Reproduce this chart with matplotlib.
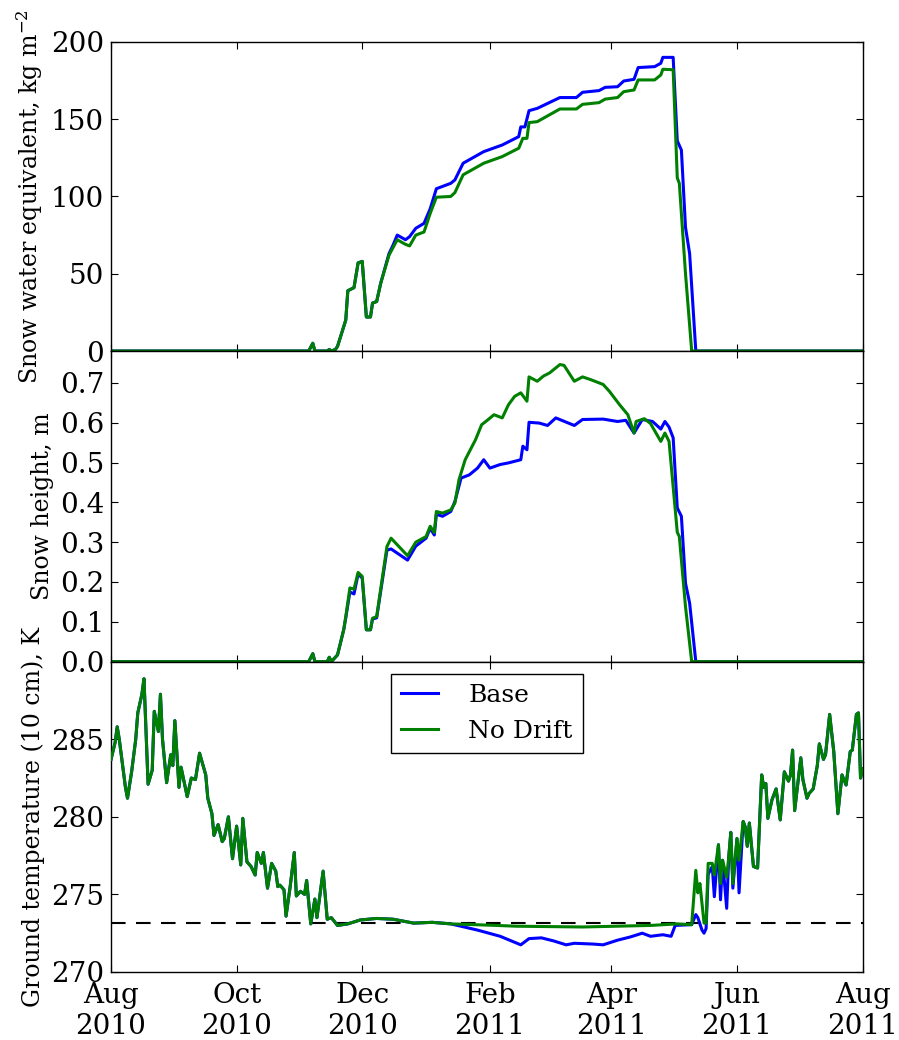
import matplotlib
matplotlib.use("Agg")
import numpy as np
import matplotlib.pyplot as plt
import matplotlib.dates as mdates
from matplotlib.ticker import FormatStrFormatter

# ---------------- data (days since 2010-08-01) ----------------
start_date = "2010-08-01"
end_date = "2011-08-01"
series_names = ["Base", "No Drift"]

# Snow water equivalent, kg m-2
swe_base_days = [0, 96, 98, 99, 105, 106, 107, 109, 110, 114, 115, 118, 120, 122, 124, 126, 127, 129, 131, 135,
                 137, 139, 143, 145, 148, 152, 155, 158, 165, 167, 171, 181, 190, 198, 199, 201, 203, 207, 218, 226,
                 229, 237, 240, 246, 249, 254, 256, 264, 267, 268, 273, 275, 277, 279, 281, 284, 365]
swe_base = [0, 0, 5, 0, 0, 1, 0, 1, 3, 20, 39, 41, 57, 58, 22, 22, 31, 32, 44, 63,
            68.6, 75, 72, 74, 79.4, 82.6, 92, 105, 108.5, 110.7, 121.5, 129, 133.3, 138.7, 145, 145, 155.5, 157, 164, 164,
            167.4, 168.5, 170.6, 171, 174.7, 175.8, 183.4, 184, 186.2, 190, 190, 136, 130, 80, 63, 0, 0]
swe_nd_days = [0, 96, 98, 99, 105, 106, 107, 109, 110, 114, 115, 118, 120, 122, 124, 126, 127, 129, 131, 135,
               137, 139, 143, 145, 148, 152, 155, 158, 165, 167, 171, 181, 190, 198, 200, 202, 203, 207, 218, 226,
               229, 237, 240, 246, 249, 254, 256, 264, 267, 268, 273, 275, 276, 279, 282, 365]
swe_nd = [0, 0, 5, 0, 0, 1, 0, 1, 3, 20, 39, 41, 57, 58, 22, 22, 31, 32, 44, 62,
          67, 72, 69, 68, 75, 77, 89, 99.5, 100, 102.5, 114, 121.5, 125.8, 131.2, 137.6, 137.6, 147.8, 148.4, 156.6, 156.6,
          159.6, 160.7, 163, 164, 167.8, 168.9, 175.4, 175.4, 178.6, 182.3, 182, 112, 108.5, 50, 0, 0]

# Snow height, m
h_base_days = [0, 96, 98, 99, 105, 106, 107, 110, 113, 114, 116, 118, 120, 122, 124, 126, 127, 129, 134, 136,
               144, 148, 153, 155, 157, 158, 161, 165, 167, 170, 174, 178, 181, 184, 189, 193, 199, 200, 202, 203,
               208, 212, 216, 225, 229, 239, 246, 250, 254, 258, 263, 267, 269, 271, 273, 275, 277, 279, 281, 284, 365]
h_base = [0, 0, 0.02, 0, 0, 0.011, 0, 0.017, 0.08, 0.11, 0.175, 0.17, 0.22, 0.21, 0.08, 0.08, 0.107, 0.11, 0.28, 0.283,
          0.255, 0.29, 0.31, 0.335, 0.318, 0.37, 0.365, 0.377, 0.402, 0.461, 0.469, 0.486, 0.507, 0.486, 0.495, 0.499,
          0.507, 0.541, 0.532, 0.601, 0.599, 0.593, 0.612, 0.593, 0.608, 0.609, 0.603, 0.606, 0.574, 0.608,
          0.603, 0.584, 0.603, 0.589, 0.562, 0.386, 0.365, 0.197, 0.147, 0, 0]
h_nd_days = [0, 96, 98, 99, 105, 106, 107, 110, 113, 114, 116, 118, 120, 122, 124, 126, 127, 129, 134, 136,
             144, 148, 153, 155, 157, 158, 161, 165, 167, 169, 172, 177, 180, 182, 186, 190, 193, 196, 199, 202,
             203, 207, 210, 213, 218, 220, 225, 229, 233, 239, 242, 247, 251, 254, 255, 259, 262, 267, 269, 271,
             275, 276, 279, 282, 365]
h_nd = [0, 0, 0.02, 0, 0, 0.011, 0, 0.017, 0.08, 0.113, 0.185, 0.182, 0.224, 0.214, 0.08, 0.08, 0.109, 0.113, 0.289, 0.31,
        0.266, 0.30, 0.314, 0.34, 0.324, 0.377, 0.373, 0.381, 0.398, 0.457, 0.507, 0.557, 0.595, 0.603, 0.62, 0.612,
        0.645, 0.666, 0.675, 0.654, 0.715, 0.704, 0.717, 0.725, 0.746, 0.744, 0.704, 0.715, 0.708, 0.696,
        0.679, 0.645, 0.62, 0.574, 0.603, 0.61, 0.598, 0.553, 0.574, 0.553, 0.325, 0.314, 0.138, 0, 0]

# Ground temperature (10 cm), K
t_early_days = [0, 2, 3, 4, 7, 8, 10, 12, 13, 15, 16, 18, 20, 21, 23, 24, 25, 27, 29, 30,
                31, 33, 34, 37, 39, 41, 43, 46, 47, 49, 50, 52, 54, 55, 57, 59, 61, 63, 64, 66,
                68, 70, 71, 73, 74, 76, 78, 80, 81, 82, 84, 85, 87, 89, 90, 92, 94, 95, 97, 99,
                100, 103, 105, 107, 110, 115, 121, 129, 137, 147, 156, 165]
t_early = [283.7, 284.8, 285.8, 285.0, 281.9, 281.2, 282.9, 285.0, 286.7, 287.9, 288.9, 282.1, 283.0, 286.8, 285.5,
           287.9, 285.0, 282.2, 284.0, 283.3, 286.2, 281.9, 283.2, 281.3, 282.5, 282.4, 284.1, 282.7, 281.2, 280.2,
           278.8, 279.5, 278.4, 278.6, 280.0, 277.3, 279.4, 276.9, 279.9, 277.1, 276.8, 276.25, 277.7, 277.0, 277.7,
           275.4, 277.0, 276.5, 275.5, 275.6, 275.3, 273.6, 275.5, 277.7, 274.9, 275.2, 275.0, 275.9, 273.1, 274.7,
           273.5, 276.5, 273.4, 273.5, 273.0, 273.1, 273.35, 273.45, 273.4, 273.15, 273.2, 273.1]
t_base_mid_days = [178, 189, 199, 203, 209, 215, 221, 225, 234, 239, 246, 252, 258, 262, 268, 272, 274, 281, 282, 284,
                   285, 287, 288, 289, 290, 292, 293, 295, 296, 297, 299, 300, 301, 302, 304, 305]
t_base_mid = [272.7, 272.3, 271.75, 272.15, 272.2, 272.0, 271.75, 271.85, 271.8, 271.75, 272.05, 272.25, 272.5,
              272.3, 272.4, 272.3, 273.0, 273.05, 273.05, 273.7, 273.5, 272.7, 272.5, 272.8, 276.3, 276.8, 274.85,
              278.2, 274.65, 277.2, 274.1, 277.4, 279.0, 275.4, 278.6, 275.1]
t_nd_mid_days = [181, 197, 229, 262, 275, 282, 284, 285, 286, 288, 289, 290, 292, 293, 295, 296, 297, 299, 300, 301,
                 302, 304, 305]
t_nd_mid = [273.03, 272.95, 272.9, 273.0, 273.1, 273.05, 276.55, 275.1, 275.7, 273.15, 273.15, 277.0, 277.0, 276.25,
            278.2, 275.7, 277.2, 276.1, 277.4, 279.0, 275.7, 278.6, 277.2]
t_late_days = [307, 308, 309, 310, 312, 314, 316, 317, 318, 319, 321, 323, 325, 327, 329, 330, 331, 332, 335, 336,
               338, 339, 341, 343, 344, 346, 347, 349, 351, 353, 355, 357, 359, 360, 362, 363, 364, 365]
t_late = [279.7, 279.35, 278.1, 279.6, 276.8, 276.7, 282.7, 281.9, 282.15, 279.9, 281.1, 281.8, 279.8, 282.9, 282.3,
          282.7, 284.3, 280.4, 283.8, 282.4, 281.2, 281.5, 281.8, 283.3, 284.7, 283.7, 284.0, 286.6, 284.2, 280.2,
          282.7, 282.05, 284.2, 284.3, 286.6, 286.7, 282.5, 283.1]
freezing_point = 273.15

# ---------------- helpers ----------------
t0 = np.datetime64(start_date)


def to_dates(days):
    return t0 + np.asarray(days).astype("timedelta64[D]")


t_base_days = t_early_days + t_base_mid_days + t_late_days
t_base = t_early + t_base_mid + t_late
t_nd_days = t_early_days + t_nd_mid_days + t_late_days
t_nd = t_early + t_nd_mid + t_late

# ---------------- style ----------------
plt.rcParams.update({
    "font.family": ["DejaVu Serif"],
    "mathtext.fontset": "dejavuserif",
    "xtick.direction": "in", "ytick.direction": "in",
    "xtick.top": True, "ytick.right": True,
    "xtick.major.size": 5, "ytick.major.size": 5,
    "xtick.major.width": 0.8, "ytick.major.width": 0.8,
    "xtick.major.pad": 7, "ytick.major.pad": 5,
    "xtick.labelsize": 20, "ytick.labelsize": 20,
    "axes.linewidth": 1.0,
})

BLUE = "#0000ff"
GREEN = "#008000"
LW = 2.2

fig = plt.figure(figsize=(8.99, 10.40), dpi=100)
left, width, h = 0.1235, 0.836, 0.2980
ax1 = fig.add_axes([left, 0.6625, width, 0.2972])
ax2 = fig.add_axes([left, 0.3638, width, 0.2987], sharex=ax1)
ax3 = fig.add_axes([left, 0.0654, width, 0.2984], sharex=ax1)

# top: SWE
ax1.plot(to_dates(swe_base_days), swe_base, color=BLUE, lw=LW, label=series_names[0])
ax1.plot(to_dates(swe_nd_days), swe_nd, color=GREEN, lw=LW, label=series_names[1])
ax1.set_ylim(0, 200)
ax1.set_yticks([0, 50, 100, 150, 200])
ax1.set_ylabel("Snow water equivalent, kg m$^{-2}$", fontsize=17)

# middle: snow height
ax2.plot(to_dates(h_base_days), h_base, color=BLUE, lw=LW)
ax2.plot(to_dates(h_nd_days), h_nd, color=GREEN, lw=LW)
ax2.set_ylim(0, 0.78)
ax2.set_yticks([0.0, 0.1, 0.2, 0.3, 0.4, 0.5, 0.6, 0.7])
ax2.yaxis.set_major_formatter(FormatStrFormatter("%.1f"))
ax2.set_ylabel("Snow height, m", fontsize=17)

# bottom: ground temperature
ax3.axhline(freezing_point, color="k", lw=1.5, ls=(0, (7, 5)), zorder=1)
ax3.plot(to_dates(t_base_days), t_base, color=BLUE, lw=LW, label=series_names[0], zorder=2)
ax3.plot(to_dates(t_nd_days), t_nd, color=GREEN, lw=LW, label=series_names[1], zorder=3)
ax3.set_ylim(270, 290)
ax3.set_yticks([270, 275, 280, 285])
ax3.set_ylabel("Ground temperature (10 cm), K", fontsize=17)
leg = ax3.legend(loc="upper center", fontsize=18, fancybox=False, framealpha=1, edgecolor="black",
                 handlelength=1.5, handletextpad=1.2, borderpad=0.4, labelspacing=0.5, borderaxespad=0.5)
leg.get_frame().set_linewidth(1.0)

ax3.set_xlim(np.datetime64(start_date), np.datetime64(end_date))
ax3.xaxis.set_major_locator(mdates.MonthLocator(bymonth=[2, 4, 6, 8, 10, 12]))
ax3.xaxis.set_major_formatter(mdates.DateFormatter("%b\n%Y"))
for ax in (ax1, ax2):
    plt.setp(ax.get_xticklabels(), visible=False)

fig.savefig("out.png", dpi=100, facecolor="white")
